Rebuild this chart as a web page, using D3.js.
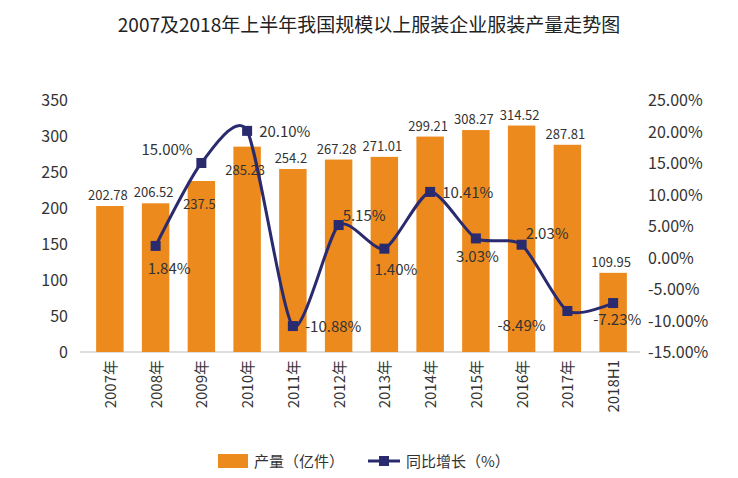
<!DOCTYPE html>
<html><head><meta charset="utf-8">
<script src="https://cdn.jsdelivr.net/npm/d3@7"></script>
<style>body{margin:0;background:#fff;font-family:"Noto Sans CJK SC","Noto Sans",sans-serif;}</style>
</head><body>
<svg id="chart" width="738" height="478"></svg>
<script>
var years = ["2007年","2008年","2009年","2010年","2011年","2012年","2013年","2014年","2015年","2016年","2017年","2018H1"];
var output = [202.78,206.52,237.5,285.23,254.2,267.28,271.01,299.21,308.27,314.52,287.81,109.95];
var growth = [null,1.84,15.00,20.10,-10.88,5.15,1.40,10.41,3.03,2.03,-8.49,-7.23];
var leftTicks = [0,50,100,150,200,250,300,350];
var rightTicks = [-15,-10,-5,0,5,10,15,20,25];

var svg = d3.select("#chart");
var x = d3.scaleBand().domain(years).range([87, 636]).paddingInner(0.4).paddingOuter(0.2);
var yL = d3.scaleLinear().domain([0, 350]).range([352, 100]);
var yR = d3.scaleLinear().domain([-15, 25]).range([352, 100]);

svg.append("text").attr("x", 369).attr("y", 32).attr("text-anchor", "middle")
	.style("font-size", "19px").style("fill", "#222")
	.text("2007及2018年上半年我国规模以上服装企业服装产量走势图");

// left axis labels
svg.selectAll(".lt").data(leftTicks).enter().append("text")
	.attr("x", 68).attr("y", function(d) { return yL(d) + 6; })
	.attr("text-anchor", "end").style("font-size", "16px").style("fill", "#333")
	.text(function(d) { return d; });

// right axis labels
svg.selectAll(".rt").data(rightTicks).enter().append("text")
	.attr("x", 648).attr("y", function(d) { return yR(d) + 6; })
	.style("font-size", "16px").style("fill", "#333")
	.text(function(d) { return d.toFixed(2) + "%"; });

svg.append("line").attr("x1", 80).attr("x2", 640).attr("y1", yL(0)).attr("y2", yL(0))
	.style("stroke", "#bbb");

// bars
svg.selectAll(".bar").data(output).enter().append("rect")
	.attr("x", function(d, i) { return x(years[i]); })
	.attr("width", x.bandwidth())
	.attr("y", function(d) { return yL(d); })
	.attr("height", function(d) { return yL(0) - yL(d); })
	.style("fill", "#ec8a1e");

// 2009 and 2010 labels sit inside the bar, under the line
svg.selectAll(".bl").data(output).enter().append("text")
	.attr("x", function(d, i) { return x(years[i]) + x.bandwidth() / 2 - 2; })
	.attr("y", function(d, i) { return (i == 2 || i == 3) ? yL(d) + 28 : yL(d) - 6; })
	.attr("text-anchor", "middle").style("font-size", "13px").style("fill", "#333")
	.text(function(d) { return d; });

// x labels rotated
svg.selectAll(".xl").data(years).enter().append("text")
	.attr("transform", function(d) { return "translate(" + (x(d) + x.bandwidth() / 2 + 6) + ",360) rotate(-90)"; })
	.attr("text-anchor", "end").style("font-size", "15px").style("fill", "#333")
	.text(function(d) { return d; });

// growth line
var pts = [];
growth.forEach(function(g, i) { if (g !== null) pts.push({ i: i, v: g }); });
var cx = function(p) { return x(years[p.i]) + x.bandwidth() / 2; };
svg.append("path").datum(pts)
	.attr("d", d3.line().x(cx).y(function(p) { return yR(p.v); }).curve(d3.curveCardinal.tension(0.3)))
	.style("fill", "none").style("stroke", "#2a2a6e").style("stroke-width", 3);
svg.selectAll(".pt").data(pts).enter().append("rect")
	.attr("x", function(p) { return cx(p) - 5; })
	.attr("y", function(p) { return yR(p.v) - 5; })
	.attr("width", 10).attr("height", 10).style("fill", "#2a2a6e");

// label placement: dx, dy relative to point
var place = {1:[-8,28],2:[-60,-8],3:[12,6],4:[12,6],5:[4,-4],6:[-10,26],7:[12,6],8:[-20,24],9:[4,-6],10:[-70,20],11:[-20,22]};
svg.selectAll(".gl").data(pts).enter().append("text")
	.attr("x", function(p) { return cx(p) + place[p.i][0]; })
	.attr("y", function(p) { return yR(p.v) + place[p.i][1]; })
	.style("font-size", "15px").style("fill", "#333")
	.text(function(p) { return p.v.toFixed(2) + "%"; });

// legend
svg.append("rect").attr("x", 218).attr("y", 454).attr("width", 30).attr("height", 14).style("fill", "#ec8a1e");
svg.append("text").attr("x", 254).attr("y", 467).style("font-size", "15px").style("fill", "#333").text("产量（亿件）");
svg.append("line").attr("x1", 368).attr("x2", 400).attr("y1", 461).attr("y2", 461).style("stroke", "#2a2a6e").style("stroke-width", 3);
svg.append("rect").attr("x", 379).attr("y", 456).attr("width", 10).attr("height", 10).style("fill", "#2a2a6e");
svg.append("text").attr("x", 406).attr("y", 467).style("font-size", "15px").style("fill", "#333").text("同比增长（%）");
</script>
</body></html>
